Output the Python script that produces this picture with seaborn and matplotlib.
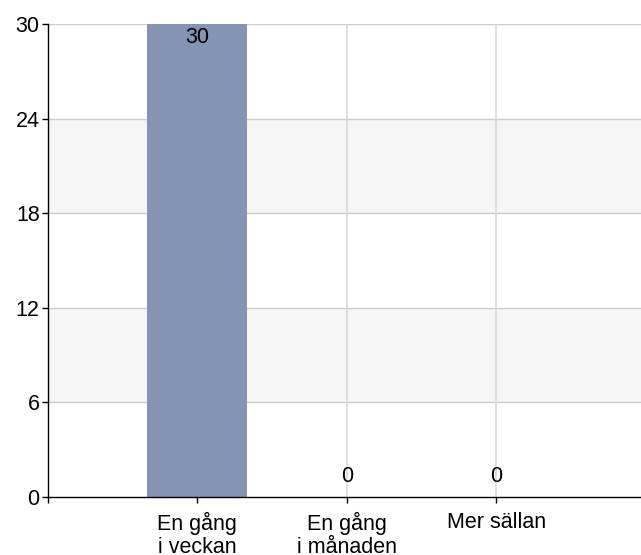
import matplotlib
matplotlib.use("Agg")
import matplotlib.pyplot as plt
import seaborn as sns
import pandas as pd

categories = ["En gång\ni veckan", "En gång\ni månaden", "Mer sällan"]
values = [30, 0, 0]
yticks = [0, 6, 12, 18, 24, 30]

sns.set_style("white")
plt.rcParams["font.family"] = ["Liberation Sans", "DejaVu Sans"]

FS = 15.5

df = pd.DataFrame({"cat": categories, "val": values})

fig = plt.figure(figsize=(6.41, 5.55), dpi=100)
ax = fig.add_axes([48 / 641, 58 / 555, 1 - 48 / 641, (497 - 24) / 555])

# alternating bands
for lo, hi in [(6, 12), (18, 24)]:
    ax.axhspan(lo, hi, facecolor="#f5f5f5", edgecolor="none", zorder=0)
for y in yticks[1:]:
    ax.axhline(y, color="#cccccc", lw=1.0, zorder=1)
for x in range(len(categories)):
    ax.axvline(x, color="#d9d9d9", lw=1.2, zorder=1)

sns.barplot(data=df, x="cat", y="val", color="#8494b4", saturation=1,
            width=0.67, ax=ax, zorder=2, linewidth=0)

for i, v in enumerate(values):
    if v > 0:
        ax.annotate(str(v), (i, v), xytext=(0, -10), textcoords="offset points",
                    ha="center", va="center", fontsize=FS, color="black", zorder=3)
    else:
        ax.annotate(str(v), (i, v), xytext=(0, 14.5), textcoords="offset points",
                    ha="center", va="center", fontsize=FS, color="black", zorder=3)

ax.set_xlim(-1, 2.97)
ax.set_ylim(0, 30)
ax.set_yticks(yticks)
ax.set_yticklabels([str(t) for t in yticks], fontsize=FS, color="black")
ax.set_xticks([-1, 0, 1, 2])
ax.set_xticklabels([""] + categories, fontsize=FS, linespacing=1.08, color="black")
ax.set_xlabel("")
ax.set_ylabel("")
ax.tick_params(axis="both", direction="out", length=4, width=1, color="black",
               bottom=True, left=True, pad=2)
ax.tick_params(axis="x", pad=7)
for s in ["top", "right"]:
    ax.spines[s].set_visible(False)
for s in ["left", "bottom"]:
    ax.spines[s].set_color("black")
    ax.spines[s].set_linewidth(1)
ax.spines["left"].set_zorder(4)
ax.spines["bottom"].set_zorder(4)

fig.savefig("out.png", dpi=100)
